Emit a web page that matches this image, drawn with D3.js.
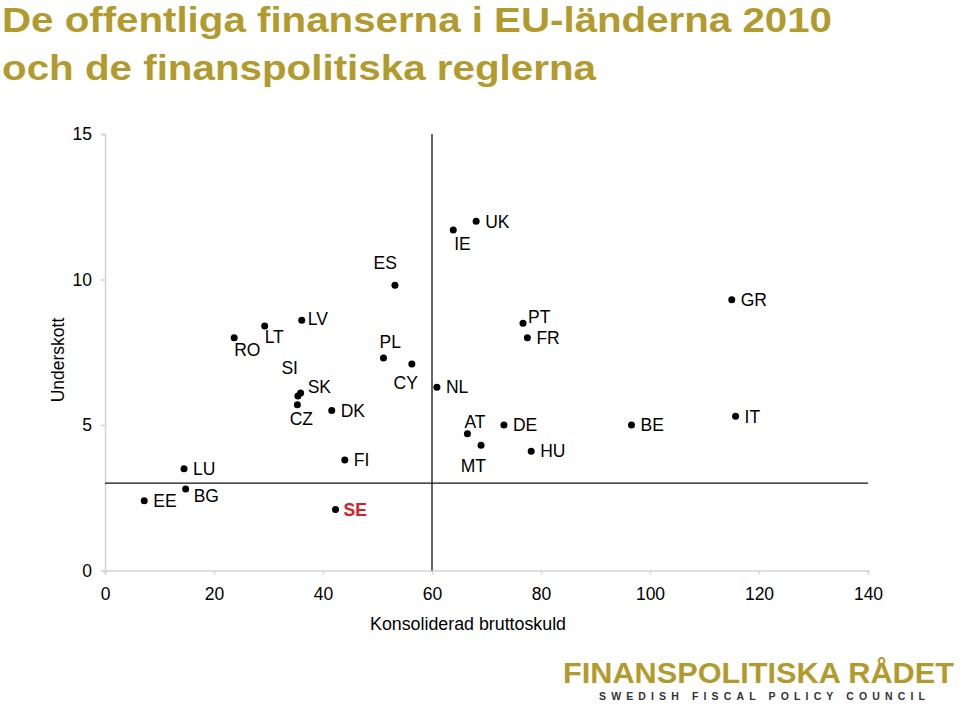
<!DOCTYPE html>
<html>
<head>
<meta charset="utf-8">
<script src="https://cdn.jsdelivr.net/npm/d3@7"></script>
<style>
  body { margin: 0; background: #fff; }
  svg { display: block; font-family: "Liberation Sans", Arial, sans-serif; }
</style>
</head>
<body>
<svg width="960" height="705"></svg>
<script>
const svg = d3.select("svg");

// Data
const countries = ["EE", "BG", "LU", "RO", "LT", "LV", "SI", "SK", "CZ", "DK", "PL", "CY", "FI", "SE",
                   "ES", "IE", "UK", "PT", "FR", "NL", "AT", "DE", "MT", "HU", "BE", "GR", "IT"];
const debt = [7.2, 14.8, 14.5, 23.7, 29.3, 36.1, 35.4, 35.9, 35.3, 41.6, 51.1, 56.3, 44.0, 42.3,
              53.2, 63.9, 68.1, 76.7, 77.5, 60.9, 66.5, 73.2, 69.0, 78.2, 96.6, 115.0, 115.7];
const deficit = [2.4, 2.8, 3.5, 8.0, 8.4, 8.6, 6.0, 6.1, 5.7, 5.5, 7.3, 7.1, 3.8, 2.1,
                 9.8, 11.7, 12.0, 8.5, 8.0, 6.3, 4.7, 5.0, 4.3, 4.1, 5.0, 9.3, 5.3];

const xTicks = [0, 20, 40, 60, 80, 100, 120, 140];
const yTicks = [0, 5, 10, 15];
const debtLimit = 60;     // vertical reference line
const deficitLimit = 3;   // horizontal reference line
const highlight = "SE";

const titleLines = ["De offentliga finanserna i EU-länderna 2010", "och de finanspolitiska reglerna"];
const xLabel = "Konsoliderad bruttoskuld";
const yLabel = "Underskott";

// Label placement relative to the dot: [anchor, dx, dy]
const labelPos = {
    EE: ["start", 9, 0], BG: ["start", 8, 7], LU: ["start", 9, 0], RO: ["start", 0, 12],
    LT: ["start", 0, 11], LV: ["start", 6, -2], SI: ["end", 0, -28], SK: ["start", 7, -6],
    CZ: ["middle", 4, 14], DK: ["start", 9, 0], PL: ["start", -4, -16], CY: ["end", 6, 19],
    FI: ["start", 9, 0], SE: ["start", 8, 0], ES: ["end", 2, -23], IE: ["start", 1, 14],
    UK: ["start", 9, 0], PT: ["start", 5, -6], FR: ["start", 9, 0], NL: ["start", 9, 0],
    AT: ["start", -3, -12], DE: ["start", 9, 0], MT: ["end", 5, 20], HU: ["start", 9, 0],
    BE: ["start", 9, 0], GR: ["start", 9, 0], IT: ["start", 9, 0]
};

const data = countries.map((c, i) => ({ c: c, x: debt[i], y: deficit[i] }));

const gold = "#b29b2e";
const fontSize = 17.5;

// Scales
const xScale = d3.scaleLinear().domain([0, 140]).range([105, 868]);
const yScale = d3.scaleLinear().domain([0, 15]).range([570.5, 134]);

// Title
svg.selectAll("text.title").data(titleLines)
    .enter().append("text")
    .attr("class", "title")
    .attr("x", 2)
    .attr("y", (d, i) => 31.5 + i * 48.5)
    .attr("font-size", 35)
    .attr("font-weight", "bold")
    .attr("fill", gold)
    .attr("textLength", (d, i) => i === 0 ? 830 : 594)
    .attr("lengthAdjust", "spacingAndGlyphs")
    .text(d => d);

// Axes
const xAxis = svg.append("g")
    .attr("transform", `translate(0, ${yScale(0)})`)
    .call(d3.axisBottom(xScale).tickValues(xTicks).tickSize(4).tickPadding(13));

const yAxis = svg.append("g")
    .attr("transform", `translate(${xScale(0)}, 0)`)
    .call(d3.axisLeft(yScale).tickValues(yTicks).tickSize(4).tickPadding(9));

[xAxis, yAxis].forEach(ax => {
    ax.attr("font-size", null).attr("font-family", null);
    ax.select(".domain").attr("stroke", "#d4d4d4").attr("stroke-width", 1.5);
    ax.selectAll(".tick line").attr("stroke", "#d4d4d4").attr("stroke-width", 1.5);
    ax.selectAll(".tick text")
        .attr("font-size", fontSize)
        .attr("fill", "#000");
});

// Axis titles
svg.append("text")
    .attr("x", 468)
    .attr("y", 630)
    .attr("text-anchor", "middle")
    .attr("font-size", fontSize)
    .attr("textLength", 196)
    .attr("lengthAdjust", "spacingAndGlyphs")
    .text(xLabel);

svg.append("text")
    .attr("transform", "translate(64, 360) rotate(-90)")
    .attr("text-anchor", "middle")
    .attr("font-size", fontSize)
    .text(yLabel);

// Reference lines
svg.append("line")
    .attr("x1", xScale(debtLimit)).attr("x2", xScale(debtLimit))
    .attr("y1", yScale(15)).attr("y2", yScale(0))
    .attr("stroke", "#333").attr("stroke-width", 1.5);

svg.append("line")
    .attr("x1", xScale(0)).attr("x2", xScale(140))
    .attr("y1", yScale(deficitLimit)).attr("y2", yScale(deficitLimit))
    .attr("stroke", "#111").attr("stroke-width", 1.2);

// Points
const pts = svg.append("g");

pts.selectAll("circle").data(data)
    .enter().append("circle")
    .attr("cx", d => xScale(d.x))
    .attr("cy", d => yScale(d.y))
    .attr("r", 3.5)
    .attr("fill", "#000");

pts.selectAll("text").data(data)
    .enter().append("text")
    .attr("x", d => xScale(d.x) + labelPos[d.c][1])
    .attr("y", d => yScale(d.y) + labelPos[d.c][2])
    .attr("dy", "0.36em")
    .attr("text-anchor", d => labelPos[d.c][0])
    .attr("font-size", fontSize)
    .attr("font-weight", d => d.c === highlight ? "bold" : "normal")
    .attr("fill", d => d.c === highlight ? "#d4202a" : "#000")
    .text(d => d.c);

// Logo
svg.append("text")
    .attr("x", 563)
    .attr("y", 683)
    .attr("font-size", 29)
    .attr("font-weight", "bold")
    .attr("fill", gold)
    .attr("textLength", 391)
    .attr("lengthAdjust", "spacingAndGlyphs")
    .text("FINANSPOLITISKA RÅDET");

svg.append("text")
    .attr("x", 599)
    .attr("y", 700)
    .attr("font-size", 10.5)
    .attr("font-weight", "bold")
    .attr("fill", "#333")
    .attr("textLength", 326)
    .attr("lengthAdjust", "spacing")
    .text("SWEDISH FISCAL POLICY COUNCIL");
</script>
</body>
</html>
